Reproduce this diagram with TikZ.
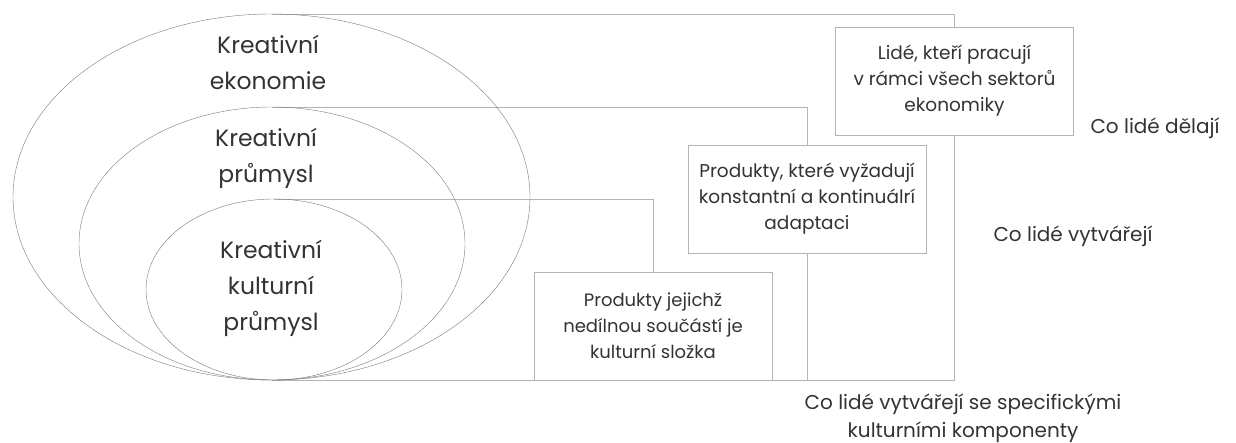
\documentclass[tikz,border=0pt]{standalone}
\usepackage{fontspec}
\setmainfont{Poppins}
\usepackage{tikz}
\usetikzlibrary{shapes.geometric, backgrounds}

\definecolor{txtgray}{HTML}{333333}
\definecolor{ringgray}{HTML}{7A7A7A}
\definecolor{framegray}{HTML}{B4B4B4}

\begin{document}
\begin{tikzpicture}[
			x=1pt, y=-1pt,
			ring/.style={ellipse, draw=ringgray, thin, inner sep=0pt, outer sep=0pt},
			ringtext/.style={align=center, text=txtgray, font=\fontsize{23.5}{36}\selectfont},
			textbox/.style={rectangle, draw=framegray, thin, fill=white, minimum width=238pt, minimum height=108pt, align=center, text=txtgray, font=\fontsize{18.5}{26}\selectfont},
			sidetext/.style={align=center, text=txtgray, font=\fontsize{20}{28}\selectfont},
			frame/.style={draw=framegray, thin},
			]
			\useasboundingbox (0,0) rectangle (1236,443);
			%Nodes
				% ellipses
				\node[ring, minimum width=517pt, minimum height=366pt]	(eco)		at (271.5,197)	{};
				\node[ring, minimum width=386pt, minimum height=273pt]	(ind)		at (272,243.5)	{};
				\node[ring, minimum width=256pt, minimum height=181pt]	(cult)		at (274,289.5)	{};
				% ellipse texts
				\node[ringtext]		(ecoText)		at (268,62)		{Kreativní\\ekonomie};
				\node[ringtext]		(indText)		at (266,158)	{Kreativní\\průmysl};
				\node[ringtext]		(cultText)		at (271,288)	{Kreativní\\kulturní\\průmysl};
				% boxes
				\node[textbox]		(people)		at (954.5,81)	{Lidé, kteří pracují\\v rámci všech sektorů\\ekonomiky};
				\node[textbox]		(adapt)		at (807,199)	{Produkty, které vyžadují\\konstantní a kontinuálrí\\adaptaci};
				\node[textbox, font=\fontsize{18}{26}\selectfont]		(culture)		at (653,326)	{Produkty jejichž\\nedílnou součástí je\\kulturní složka};
				% side labels
				\node[sidetext]		(doLabel)		at (1155,128)	{Co lidé dělají};
				\node[sidetext]		(makeLabel)	at (1073,236)	{Co lidé vytvářejí};
				\node[sidetext]		(cultLabel)		at (963,418)	{Co lidé vytvářejí se specifickými\\kulturními komponenty};

			%Lines
				% frames behind the boxes
				\begin{scope}[on background layer]
					\draw[frame] (eco.north) -| (people.center) |- (eco.south);
					\draw[frame] (ind.north) -| (adapt.center) |- (eco.south);
					\draw[frame] (cult.north) -| (culture.north);
				\end{scope}
		\end{tikzpicture}
\end{document}
